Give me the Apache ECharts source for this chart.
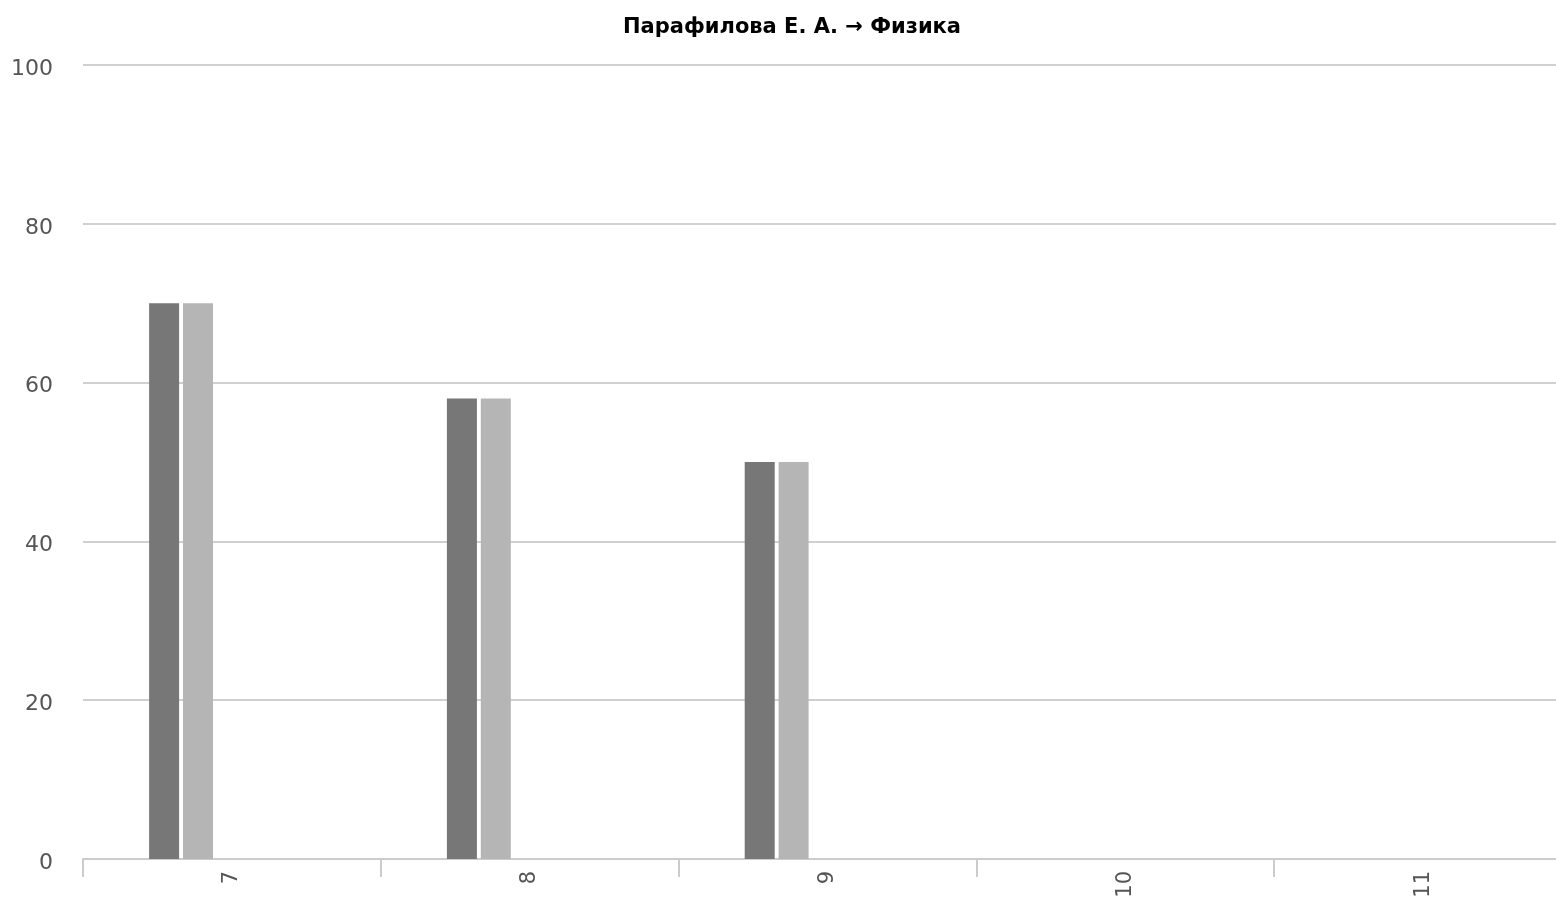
<!DOCTYPE html>
<html><head><meta charset="utf-8">
<script src="https://cdn.jsdelivr.net/npm/echarts@6/dist/echarts.min.js"></script>
<style>html,body{margin:0;padding:0;background:#fff;overflow:hidden}#c{width:1572px;height:903px}</style>
</head><body><div id="c"></div>
<script>
const titleText = 'Парафилова Е. А. → Физика';
const categories = ['7', '8', '9', '10', '11'];
const seriesA = [70, 58, 50, null, null];
const seriesB = [70, 58, 50, null, null];
const seriesC = [null, null, null, null, null];
const seriesD = [null, null, null, null, null];
const seriesE = [null, null, null, null, null];
const yTicks = [0, 20, 40, 60, 80, 100];

const colors = ['#777777', '#b5b5b5', '#999999', '#cccccc', '#555555'];
const allSeries = [seriesA, seriesB, seriesC, seriesD, seriesE];
const font = 'DejaVu Sans';

const chart = echarts.init(document.getElementById('c'), null, {renderer: 'canvas'});
chart.setOption({
  animation: false,
  backgroundColor: '#ffffff',
  title: {
    text: titleText, left: 618, top: 12,
    textStyle: {fontFamily: font, fontSize: 21, fontWeight: 'bold', color: '#000'}
  },
  grid: {left: 83, right: 0, top: 65, bottom: 44, containLabel: false},
  xAxis: {
    type: 'category', data: categories,
    axisLine: {lineStyle: {color: '#cccccc', width: 2}},
    axisTick: {show: true, length: 18, lineStyle: {color: '#cccccc', width: 2}},
    axisLabel: {rotate: 90, fontFamily: font, fontSize: 21, color: '#555', margin: 12}
  },
  yAxis: {
    type: 'value', min: yTicks[0], max: yTicks[yTicks.length - 1], interval: 20,
    axisLine: {show: false}, axisTick: {show: false},
    splitLine: {lineStyle: {color: '#d0d0d0', width: 2}},
    axisLabel: {
      margin: 30, formatter: '{a|{value}}',
      rich: {a: {fontFamily: font, fontSize: 22, color: '#555', padding: [8, 0, 0, 0]}}
    }
  },
  series: allSeries.map((d, i) => ({
    type: 'bar', data: d, barWidth: 30, barGap: '13%',
    itemStyle: {color: colors[i]}
  }))
});
</script></body></html>
